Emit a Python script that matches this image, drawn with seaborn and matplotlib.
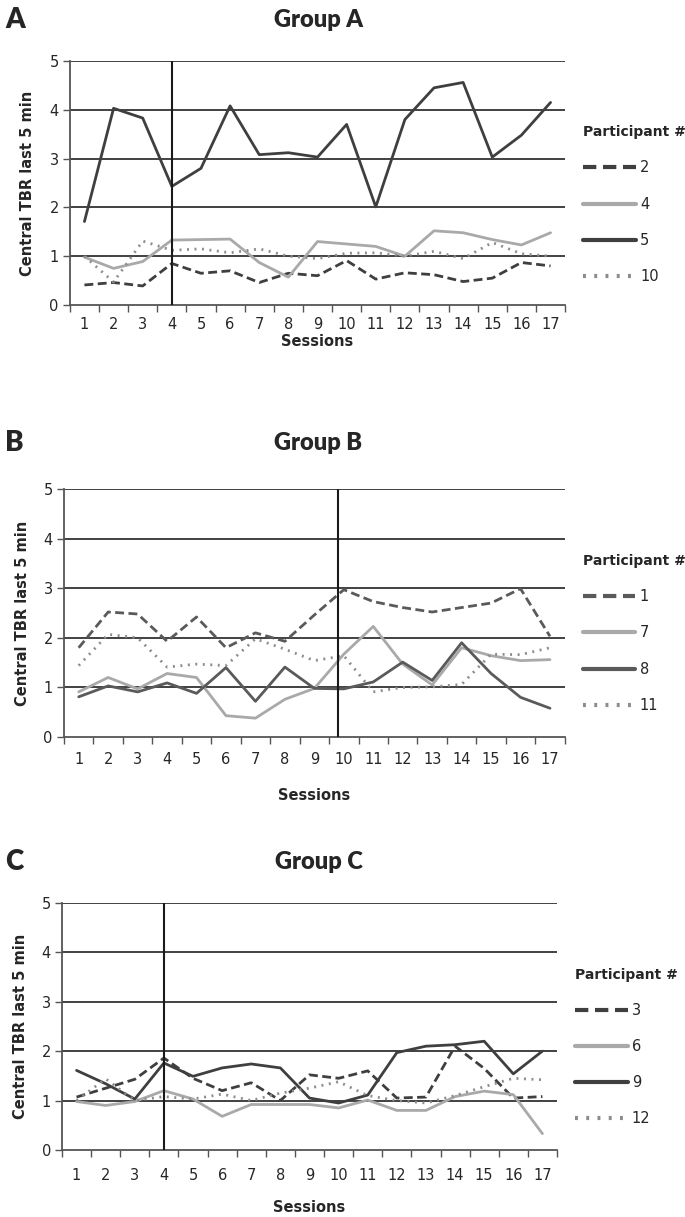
import pandas as pd
import matplotlib
matplotlib.use("Agg")
import matplotlib.pyplot as plt
import seaborn as sns

sessions = list(range(1, 18))

# Group A participants
p2 = [0.41, 0.46, 0.39, 0.85, 0.65, 0.70, 0.46, 0.65, 0.60, 0.91, 0.53, 0.66, 0.62, 0.48, 0.55, 0.87, 0.80]
p4 = [0.98, 0.75, 0.89, 1.33, 1.34, 1.35, 0.87, 0.57, 1.30, 1.25, 1.20, 1.00, 1.52, 1.48, 1.34, 1.23, 1.48]
p5 = [1.71, 4.03, 3.83, 2.43, 2.80, 4.08, 3.08, 3.12, 3.03, 3.70, 2.01, 3.80, 4.45, 4.56, 3.03, 3.48, 4.15]
p10 = [1.00, 0.47, 1.31, 1.12, 1.15, 1.07, 1.15, 1.00, 0.95, 1.06, 1.07, 1.00, 1.10, 0.95, 1.28, 1.05, 1.00]

# Group B participants
p1 = [1.80, 2.52, 2.48, 1.93, 2.42, 1.80, 2.10, 1.93, 2.46, 2.97, 2.73, 2.61, 2.52, 2.61, 2.70, 2.99, 2.03]
p7 = [0.91, 1.20, 0.97, 1.28, 1.20, 0.43, 0.38, 0.76, 0.98, 1.67, 2.23, 1.47, 1.05, 1.80, 1.64, 1.54, 1.56]
p8 = [0.81, 1.03, 0.91, 1.09, 0.88, 1.40, 0.72, 1.41, 0.98, 0.97, 1.11, 1.51, 1.14, 1.90, 1.28, 0.80, 0.58]
p11 = [1.44, 2.07, 2.00, 1.41, 1.47, 1.44, 1.98, 1.77, 1.54, 1.64, 0.91, 1.00, 1.01, 1.06, 1.67, 1.66, 1.80]

# Group C participants
p3 = [1.07, 1.25, 1.43, 1.86, 1.45, 1.20, 1.36, 1.00, 1.52, 1.45, 1.60, 1.05, 1.07, 2.10, 1.65, 1.05, 1.08]
p6 = [0.98, 0.90, 0.98, 1.20, 1.03, 0.68, 0.92, 0.92, 0.92, 0.85, 1.01, 0.80, 0.80, 1.08, 1.19, 1.12, 0.33]
p9 = [1.61, 1.34, 1.03, 1.76, 1.49, 1.66, 1.74, 1.66, 1.05, 0.95, 1.11, 1.97, 2.10, 2.13, 2.20, 1.54, 2.00]
p12 = [1.00, 1.44, 1.00, 1.08, 1.03, 1.13, 1.00, 1.15, 1.25, 1.38, 1.10, 1.00, 0.95, 1.10, 1.28, 1.45, 1.42]

DARK = "#3f3f3f"
MID = "#5a5a5a"
LIGHT = "#a9a9a9"
DOT = "#8c8c8c"


def long_df(series):
    rows = []
    for name, vals in series.items():
        for s, v in zip(sessions, vals):
            rows.append({"Session": s, "Participant": name, "TBR": v})
    return pd.DataFrame(rows)


panels = [
    dict(letter="A", title="Group A", data={"2": p2, "4": p4, "5": p5, "10": p10},
         colors=[DARK, LIGHT, DARK, DOT], phase=4.0,
         rect=[0.102, 0.7494, 0.723, 0.2005], ty=0.9836, tpad=9, xpad=1),
    dict(letter="B", title="Group B", data={"1": p1, "7": p7, "8": p8, "11": p11},
         colors=[MID, LIGHT, MID, DOT], phase=9.8,
         rect=[0.0934, 0.3944, 0.731, 0.2038], ty=0.636, tpad=11, xpad=15),
    dict(letter="C", title="Group C", data={"3": p3, "6": p6, "9": p9, "12": p12},
         colors=[DARK, LIGHT, DARK, DOT], phase=4.0,
         rect=[0.0905, 0.0551, 0.7226, 0.203], ty=0.2917, tpad=13, xpad=12),
]

sns.set_theme(style="white")
plt.rcParams["font.family"] = ["DejaVu Sans"]

fig = plt.figure(figsize=(6.85, 12.17), dpi=100)

for p in panels:
    ax = fig.add_axes(p["rect"])
    names = list(p["data"].keys())
    df = long_df(p["data"])
    palette = dict(zip(names, p["colors"]))
    dashes = dict(zip(names, [(3.2, 1.6), "", "", (0.7, 2.0)]))

    # horizontal gridlines
    for yv in range(1, 6):
        ax.axhline(yv, color="#333333", lw=1.3, zorder=1)

    sns.lineplot(data=df, x="Session", y="TBR", hue="Participant", style="Participant",
                 hue_order=names, style_order=names, palette=palette, dashes=dashes,
                 lw=2.0, ax=ax, zorder=3)

    # phase change line
    ax.axvline(p["phase"], color="#1a1a1a", lw=1.5, zorder=4)

    ax.set_xlim(0.5, 17.5)
    ax.set_ylim(0, 5)
    ax.set_yticks(range(0, 6))
    ax.set_xticks([i + 0.5 for i in range(0, 18)])
    ax.set_xticklabels([])
    ax.set_xticks(sessions, minor=True)
    ax.set_xticklabels([str(s) for s in sessions], minor=True)
    ax.tick_params(axis="x", which="major", direction="out", length=5, width=1, color="#555555", bottom=True)
    ax.tick_params(axis="x", which="minor", length=0, pad=p["tpad"], labelsize=10.5)
    ax.tick_params(axis="y", direction="out", length=5, width=1, color="#555555", left=True, labelsize=10.5, pad=3)

    for side in ["top", "right"]:
        ax.spines[side].set_visible(False)
    for side in ["left", "bottom"]:
        ax.spines[side].set_color("#555555")
        ax.spines[side].set_linewidth(1.3)

    ax.set_xlabel("Sessions", fontsize=10.5, fontweight="bold", labelpad=p["xpad"])
    ax.set_ylabel("Central TBR last 5 min", fontsize=10.5, fontweight="bold", labelpad=10)

    sns.move_legend(ax, "upper left", bbox_to_anchor=(1.01, 0.79), frameon=False,
                    title="Participant #", fontsize=10.5, title_fontsize=10,
                    handlelength=3.6, labelspacing=1.45, handletextpad=0.3)
    leg = ax.get_legend()
    leg.get_title().set_fontweight("bold")
    leg._legend_box.align = "left"
    for line in leg.get_lines():
        line.set_linewidth(3.0)

    fig.text(0.465, p["ty"], p["title"], ha="center", va="center", fontsize=17,
             fontweight="heavy", family=["Lato", "DejaVu Sans"])
    fig.text(0.008, p["ty"], p["letter"], ha="left", va="center", fontsize=20,
             fontweight="heavy", family=["Lato", "DejaVu Sans"])

fig.savefig("out.png", dpi=100)
